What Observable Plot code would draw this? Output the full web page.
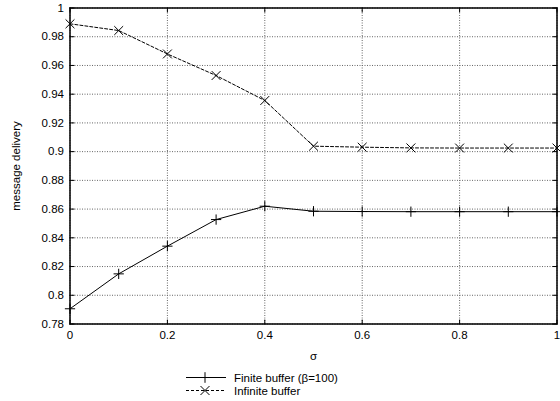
<!DOCTYPE html>
<html>
<head>
<meta charset="utf-8">
<script src="https://cdn.jsdelivr.net/npm/d3@7"></script>
<script src="https://cdn.jsdelivr.net/npm/@observablehq/plot@0.6"></script>
<style>
  html, body { margin: 0; padding: 0; background: #fff; }
  #wrap { width: 560px; font-family: "Liberation Sans", Arial, sans-serif; }
  #legend { position: relative; height: 35px; font-size: 11.5px; color: #000; }
  #legend .row { position: absolute; left: 184px; display: flex; align-items: center; height: 13px; }
  #legend svg { display: block; margin-right: 6px; }
</style>
</head>
<body>
<div id="wrap">
  <div id="chart"></div>
  <div id="legend"></div>
</div>
<script>
// ---- data ----
const sigma = [0, 0.1, 0.2, 0.3, 0.4, 0.5, 0.6, 0.7, 0.8, 0.9, 1.0];
const finiteBuffer = [0.7906, 0.8149, 0.8342, 0.8527, 0.8620, 0.8585, 0.8583, 0.8582, 0.8582, 0.8582, 0.8582];
const infiniteBuffer = [0.9890, 0.9843, 0.9680, 0.9530, 0.9356, 0.9038, 0.9031, 0.9026, 0.9025, 0.9025, 0.9025];
const seriesNames = ["Finite buffer (\u03b2=100)", "Infinite buffer"];
const xTicks = [0, 0.2, 0.4, 0.6, 0.8, 1];
const yTicks = [0.78, 0.80, 0.82, 0.84, 0.86, 0.88, 0.90, 0.92, 0.94, 0.96, 0.98, 1.0];
const xLabel = "\u03c3";
const yLabel = "message delivery";

const finiteData = sigma.map((s, i) => ({s, v: finiteBuffer[i]}));
const infiniteData = sigma.map((s, i) => ({s, v: infiniteBuffer[i]}));
const fmt = d => String(+d.toFixed(2));

const tickShape = { draw(ctx, l) { ctx.moveTo(0, 0); ctx.lineTo(0, -l); } };
const tickLen = 4;

const chart = Plot.plot({
  width: 560,
  height: 366,
  marginLeft: 69.5,
  marginRight: 3.5,
  marginTop: 7.5,
  marginBottom: 42.5,
  style: { fontFamily: "Liberation Sans, Arial, sans-serif", fontSize: "11.5px", background: "#fff", color: "#000" },
  x: { domain: [0, 1], ticks: xTicks },
  y: { domain: [0.78, 1], ticks: yTicks },
  marks: [
    Plot.gridX(xTicks, { stroke: "#666", strokeOpacity: 1, strokeWidth: 1, strokeDasharray: "1,1.5" }),
    Plot.gridY(yTicks, { stroke: "#666", strokeOpacity: 1, strokeWidth: 1, strokeDasharray: "1,1.5" }),
    // inward ticks on all four sides
    Plot.vector(yTicks, { y: d => d, frameAnchor: "left", rotate: 90, length: tickLen, anchor: "start", shape: tickShape, stroke: "#000", strokeWidth: 1 }),
    Plot.vector(yTicks, { y: d => d, frameAnchor: "right", rotate: -90, length: tickLen, anchor: "start", shape: tickShape, stroke: "#000", strokeWidth: 1 }),
    Plot.vector(xTicks, { x: d => d, frameAnchor: "bottom", rotate: 0, length: tickLen, anchor: "start", shape: tickShape, stroke: "#000", strokeWidth: 1 }),
    Plot.vector(xTicks, { x: d => d, frameAnchor: "top", rotate: 180, length: tickLen, anchor: "start", shape: tickShape, stroke: "#000", strokeWidth: 1 }),
    Plot.axisX(xTicks, { tickSize: 0, tickPadding: 7, tickFormat: fmt, label: xLabel, labelArrow: "none", labelAnchor: "center", labelOffset: 36, fontSize: 11.5 }),
    Plot.axisY(yTicks, { tickSize: 0, tickPadding: 6, tickFormat: fmt, label: yLabel, labelArrow: "none", labelAnchor: "center", labelOffset: 58, fontSize: 11.5 }),
    Plot.line(finiteData, { x: "s", y: "v", stroke: "#000", strokeWidth: 1 }),
    Plot.dot(finiteData, { x: "s", y: "v", symbol: "plus", r: 3.4, stroke: "#000", strokeWidth: 1 }),
    Plot.line(infiniteData, { x: "s", y: "v", stroke: "#000", strokeWidth: 1, strokeDasharray: "3,2" }),
    Plot.dot(infiniteData, { x: "s", y: "v", symbol: "times", r: 4.1, stroke: "#000", strokeWidth: 1 }),
    Plot.frame({ stroke: "#000", strokeWidth: 1.5 })
  ]
});
document.getElementById("chart").appendChild(chart);

// legend
const legend = document.getElementById("legend");
const legendDefs = [
  { name: seriesNames[0], dash: null, marker: "M0,-5.3V5.3M-5.3,0H5.3", top: 5 },
  { name: seriesNames[1], dash: "3,2", marker: "M-4.5,-4.5L4.5,4.5M-4.5,4.5L4.5,-4.5", top: 18 }
];
legendDefs.forEach(d => {
  const row = document.createElement("div");
  row.className = "row";
  row.style.top = d.top + "px";
  row.innerHTML = `<svg width="44" height="13" viewBox="0 0 44 13">
    <line x1="2" y1="6.5" x2="42" y2="6.5" stroke="#000" stroke-width="1" ${d.dash ? `stroke-dasharray="${d.dash}"` : ""}/>
    <path transform="translate(21,6.5)" d="${d.marker}" stroke="#000" stroke-width="1" fill="none"/>
  </svg><span>${d.name}</span>`;
  legend.appendChild(row);
});
</script>
</body>
</html>
